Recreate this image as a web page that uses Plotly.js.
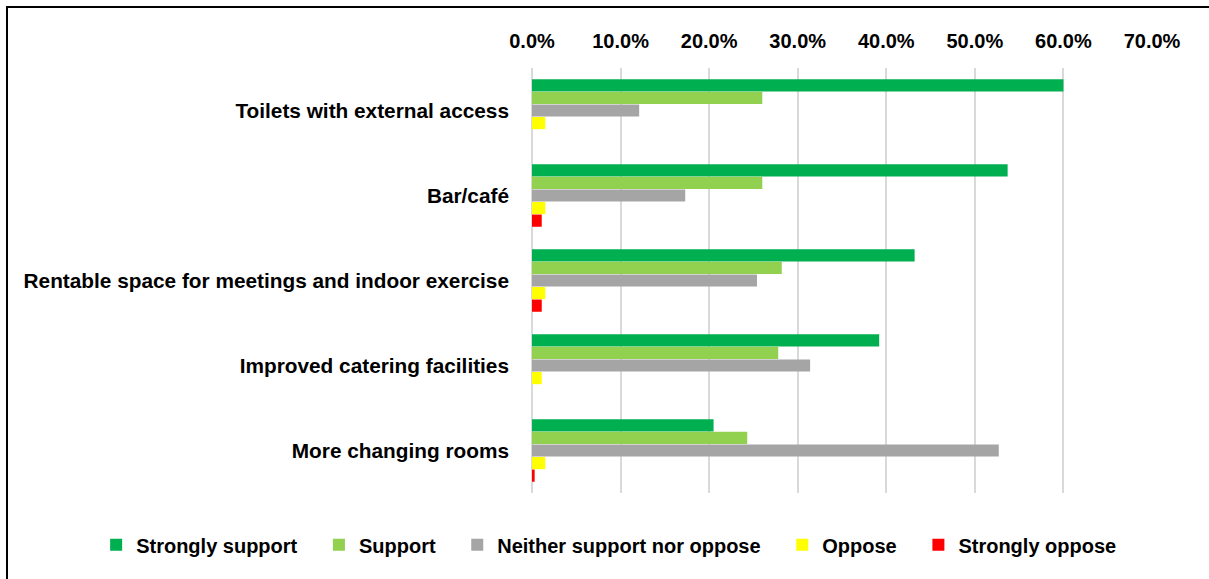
<!DOCTYPE html>
<html>
<head>
<meta charset="utf-8">
<script src="https://cdn.plot.ly/plotly-3.0.1.min.js"></script>
<style>
  html, body { margin: 0; padding: 0; background: #fff; }
  #wrap { position: relative; width: 1209px; height: 579px; overflow: hidden; }
  #chart { position: absolute; left: 0; top: 0; width: 1209px; height: 579px; }
  #frame { position: absolute; left: 6px; top: 6px; width: 1300px; height: 700px;
           border-left: 2px solid #000; border-top: 2px solid #000; pointer-events: none; }
</style>
</head>
<body>
<div id="wrap"><div id="chart"></div><div id="frame"></div></div>
<script>
const categories = [
  "Toilets with external access",
  "Bar/café",
  "Rentable space for meetings and indoor exercise",
  "Improved catering facilities",
  "More changing rooms"
];
const seriesNames = ["Strongly support", "Support", "Neither support nor oppose", "Oppose", "Strongly oppose"];
const stronglySupport = [0.600, 0.537, 0.432, 0.392, 0.205];
const support         = [0.260, 0.260, 0.282, 0.278, 0.243];
const neither         = [0.121, 0.173, 0.254, 0.314, 0.527];
const oppose          = [0.015, 0.015, 0.015, 0.011, 0.015];
const stronglyOppose  = [0.000, 0.011, 0.011, 0.000, 0.003];
const colors = ["#00b050", "#92d050", "#a5a5a5", "#ffff00", "#ff0000"];
const tickVals = [0, 0.1, 0.2, 0.3, 0.4, 0.5, 0.6, 0.7];
const tickText = ["0.0%", "10.0%", "20.0%", "30.0%", "40.0%", "50.0%", "60.0%", "70.0%"];

const allSeries = [stronglySupport, support, neither, oppose, stronglyOppose];
const FONT = "Liberation Sans, Arial, sans-serif";
const PAD = "\u00a0\u00a0\u00a0";

const traces = allSeries.map((vals, i) => ({
  type: "bar",
  orientation: "h",
  name: i < allSeries.length - 1 ? seriesNames[i] + PAD : seriesNames[i],
  y: categories,
  x: vals,
  marker: { color: colors[i], line: { width: 0 } },
  hoverinfo: "x+name"
}));

const layout = {
  width: 1209,
  height: 579,
  margin: { l: 532, r: 57, t: 68, b: 86 },
  paper_bgcolor: "#fff",
  plot_bgcolor: "#fff",
  barmode: "group",
  bargap: 0.26,
  bargroupgap: 0.03,
  font: { family: FONT, color: "#000" },
  xaxis: {
    side: "top",
    range: [0, 0.7],
    tickvals: tickVals,
    ticktext: tickText,
    showgrid: true,
    gridcolor: "#d9d9d9",
    gridwidth: 2,
    zeroline: true,
    zerolinecolor: "#d9d9d9",
    zerolinewidth: 2,
    showline: false,
    ticks: "",
    ticklabelstandoff: 15,
    tickfont: { family: FONT, size: 20, color: "#000", weight: "bold" },
    fixedrange: true
  },
  yaxis: {
    autorange: "reversed",
    showgrid: false,
    zeroline: false,
    showline: false,
    ticks: "",
    ticklabelstandoff: 22,
    tickfont: { family: FONT, size: 20.8, color: "#000", weight: "bold" },
    fixedrange: true
  },
  legend: {
    orientation: "h",
    x: -0.703,
    xanchor: "left",
    y: -0.122,
    yanchor: "middle",
    font: { family: FONT, size: 20, color: "#000", weight: "bold" },
    traceorder: "normal",
    itemclick: false
  },
  showlegend: true
};

Plotly.newPlot("chart", traces, layout, { displayModeBar: false, staticPlot: true });
</script>
</body>
</html>
